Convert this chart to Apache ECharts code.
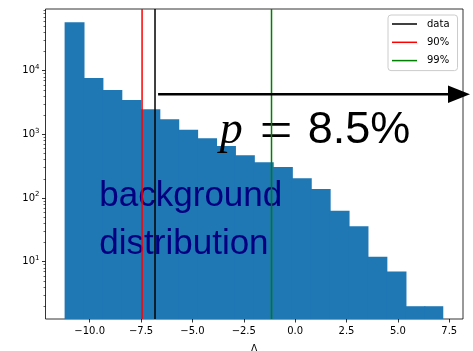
<!DOCTYPE html>
<html><head><meta charset="utf-8">
<script src="https://cdn.jsdelivr.net/npm/echarts@6/dist/echarts.min.js"></script>
<style>html,body{margin:0;padding:0;background:#fff}#c{width:473px;height:351px}</style>
</head><body><div id="c"></div>
<script>
// ---- data ----
const binEdges = [-11.22,-10.30,-9.38,-8.46,-7.53,-6.61,-5.69,-4.77,-3.85,-2.93,-2.01,-1.09,-0.16,0.76,1.68,2.60,3.52,4.44,5.37,6.29,7.21];
const binCounts = [57500,7650,4950,3450,2480,1720,1180,870,655,470,365,308,205,138,63,36,12,7,2,2];
const lineNames = ['data','90%','99%'];
const lineValues = [-6.82,-7.45,-1.15];
const lineColors = ['#000000','#ff0000','#008000'];
const xTicks = [-10,-7.5,-5,-2.5,0,2.5,5,7.5];
const yTicks = [10,100,1000,10000];
const yMinorTicks = [2,3,4,5,6,7,8,9,20,30,40,50,60,70,80,90,200,300,400,500,600,700,800,900,2000,3000,4000,5000,6000,7000,8000,9000,20000,30000,40000,50000,60000,70000,80000,90000];
const xRange = [-12.15, 8.17];
const yRange = [1.26, 93000];
const pValueParts = ['p', '=', '8.5%'];
const bgLines = ['background','distribution'];
const arrowFrom = [-6.67, 4265];
const arrowToX = 8.51;
const pTextAt = [-3.67, 1140];
const bgTextAt = [-9.53, 44];

const chart = echarts.init(document.getElementById('c'), null, {renderer:'canvas'});
const fmtX = v => (v < 0 ? '\u2212' : '') + Math.abs(v).toFixed(1);
const tickStyle = {color:'#000', width:0.8};

const series = [];
series.push({
  type:'custom', name:'hist', z:2, clip:true,
  data: binCounts.map((c,i)=>[binEdges[i], binEdges[i+1], c]),
  encode:{x:[0,1], y:2},
  renderItem(params, api){
    const p0 = api.coord([api.value(0), api.value(2)]);
    const p1 = api.coord([api.value(1), api.value(2)]);
    const cs = params.coordSys;
    const bottom = cs.y + cs.height;
    const last = params.dataIndex === binCounts.length - 1;
    return {type:'rect', shape:{x:p0[0], y:p0[1], width:p1[0]-p0[0]+(last?0:1), height:bottom-p0[1]}, style:{fill:'#1f77b4'}};
  }
});
series.push({
  type:'custom', name:'ann', z:3, clip:false,
  data:[[pTextAt[0], pTextAt[1], bgTextAt[0], bgTextAt[1]]],
  encode:{x:0, y:1},
  renderItem(params, api){
    const a = api.coord([api.value(0), api.value(1)]);
    const b = api.coord([api.value(2), api.value(3)]);
    return {type:'group', children:[
      {type:'text', x:a[0], y:a[1], style:{text:pValueParts[0], fontFamily:'Liberation Serif', fontStyle:'italic', fontSize:46, fill:'#000', align:'left', verticalAlign:'middle'}},
      {type:'text', x:a[0]+40, y:a[1]+3, style:{text:pValueParts[1], fontFamily:'Liberation Serif', fontSize:58, fill:'#000', align:'left', verticalAlign:'middle'}},
      {type:'text', x:a[0]+88, y:a[1], style:{text:pValueParts[2], fontFamily:'Liberation Sans', fontSize:45, fill:'#000', align:'left', verticalAlign:'middle'}},
      {type:'text', x:b[0], y:b[1], style:{text:bgLines.join('\n'), fontFamily:'Liberation Sans', fontSize:35, lineHeight:48, fill:'#000080', align:'left', verticalAlign:'middle'}}
    ]};
  }
});
lineNames.forEach((n,i)=>{
  series.push({
    type:'custom', name:n, z:4, itemStyle:{color:lineColors[i]},
    data:[[lineValues[i], yRange[1]]], encode:{x:0, y:1},
    renderItem(params, api){
      const p = api.coord([api.value(0), api.value(1)]);
      const cs = params.coordSys;
      return {type:'line', shape:{x1:p[0], y1:cs.y, x2:p[0], y2:cs.y+cs.height}, style:{stroke:lineColors[i], lineWidth:1.5}};
    }
  });
});
series.push({
  type:'custom', name:'arrow', z:5, clip:false,
  data:[[arrowFrom[0], arrowFrom[1], arrowToX]], encode:{x:0, y:1},
  renderItem(params, api){
    const p0 = api.coord([api.value(0), api.value(1)]);
    const p1 = api.coord([api.value(2), api.value(1)]);
    const hl = 22, hw = 8.8;
    return {type:'group', children:[
      {type:'line', shape:{x1:p0[0], y1:p0[1], x2:p1[0]-hl+1, y2:p1[1]}, style:{stroke:'#000', lineWidth:2.7}},
      {type:'polygon', shape:{points:[[p1[0]-hl, p1[1]-hw],[p1[0], p1[1]],[p1[0]-hl, p1[1]+hw]]}, style:{fill:'#000'}}
    ]};
  }
});

chart.setOption({
  animation:false,
  backgroundColor:'#fff',
  grid:{left:45.5, right:10, top:9, bottom:32, show:true, borderColor:'#000', borderWidth:0.8, backgroundColor:'transparent', containLabel:false, outerBoundsMode:'none'},
  legend:{orient:'vertical', left:388, top:15, data:lineNames, icon:'rect', itemWidth:25, itemHeight:1.5, itemGap:4.3,
    padding:[2,8,3,4], backgroundColor:'rgba(255,255,255,0.8)', borderColor:'#cccccc', borderWidth:1, borderRadius:3, selectedMode:false,
    textStyle:{fontFamily:'DejaVu Sans', fontSize:10, color:'#000', lineHeight:14, padding:[0,0,0,5]}},
  xAxis:{type:'value', min:xRange[0], max:xRange[1],
    axisLine:{show:false, onZero:false}, splitLine:{show:false},
    axisTick:{show:true, customValues:xTicks, length:3.5, lineStyle:tickStyle},
    axisLabel:{customValues:xTicks, formatter:fmtX, margin:7, fontFamily:'DejaVu Sans', fontSize:10, color:'#000'},
    name:'\u039B', nameLocation:'middle', nameGap:25, nameTextStyle:{fontFamily:'DejaVu Sans', fontSize:10, color:'#000'}},
  yAxis:[
    {type:'log', logBase:10, min:yRange[0], max:yRange[1], position:'left',
     axisLine:{show:false, onZero:false}, splitLine:{show:false},
     axisTick:{show:true, customValues:yTicks, length:3.5, lineStyle:tickStyle},
     axisLabel:{customValues:yTicks, margin:6, fontFamily:'DejaVu Sans', fontSize:10, color:'#000', lineHeight:14,
       formatter:v => '10{s|' + Math.round(Math.log10(v)) + '}',
       rich:{s:{fontFamily:'DejaVu Sans', fontSize:7, color:'#000', verticalAlign:'top', lineHeight:6}}}},
    {type:'log', logBase:10, min:yRange[0], max:yRange[1], position:'left',
     axisLine:{show:false, onZero:false}, splitLine:{show:false}, axisLabel:{show:false},
     axisTick:{show:true, customValues:yMinorTicks, length:2, lineStyle:{color:'#000', width:0.6}}}
  ],
  series: series
});
</script></body></html>
